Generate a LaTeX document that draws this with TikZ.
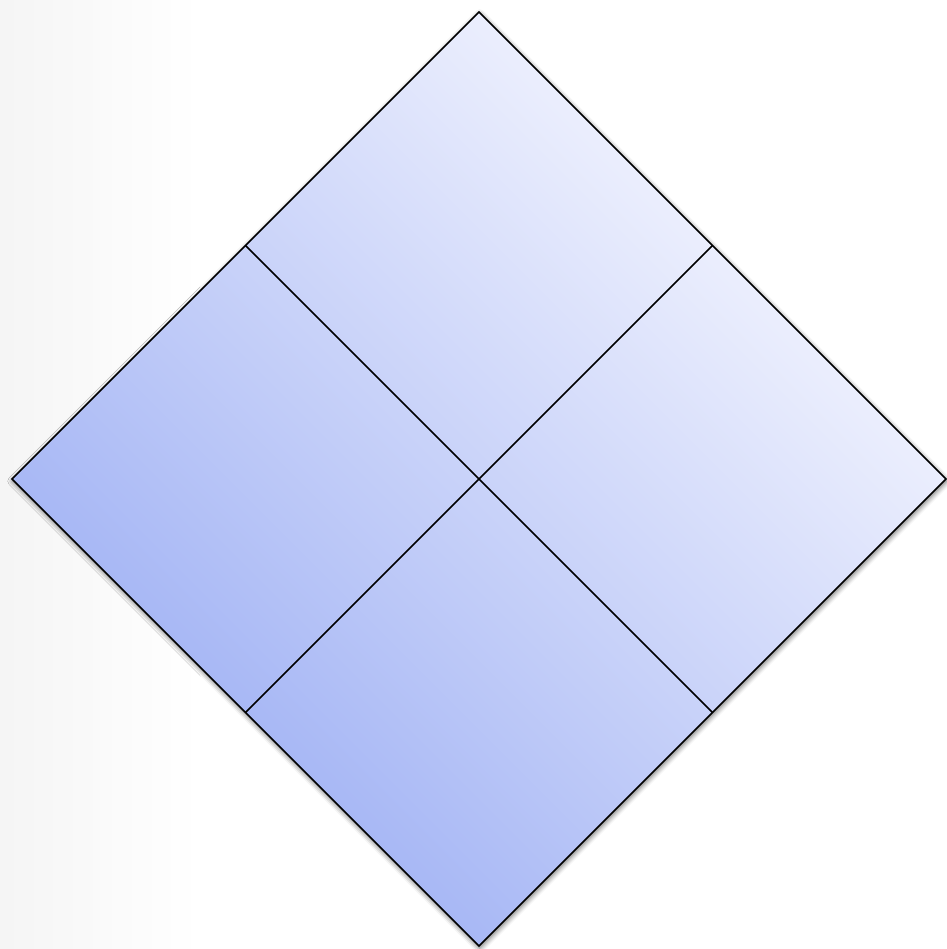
\documentclass[tikz,border=0pt]{standalone}
\usetikzlibrary{shadows.blur}
\definecolor{dlight}{RGB}{235,238,253}
\definecolor{ddark}{RGB}{168,184,245}
\begin{document}
\begin{tikzpicture}[x=1pt,y=1pt,
  edge/.style={draw=black,line width=1.6pt},
  panel/.style={left color=ddark,right color=dlight,
    blur shadow={shadow xshift=-1pt,shadow yshift=-2pt,shadow blur radius=5pt,shadow opacity=60}}]
\useasboundingbox (0,0) rectangle (946,949);
\shade[left color=black!4,right color=white] (0,0) rectangle (200,949);
\coordinate (C) at (479,470);
\begin{scope}[transform canvas={shift={(479pt,470pt)},rotate=45}]
  \shade[panel] (-330.2,-330.2) rectangle (330.2,330.2);
\end{scope}
\begin{scope}[shift={(C)},rotate=45]
  \coordinate (T) at (330.2,330.2);
  \coordinate (R) at (330.2,-330.2);
  \coordinate (B) at (-330.2,-330.2);
  \coordinate (L) at (-330.2,330.2);
  \coordinate (TR) at (330.2,0);
  \coordinate (BR) at (0,-330.2);
  \coordinate (BL) at (-330.2,0);
  \coordinate (TL) at (0,330.2);
\end{scope}
\draw[edge,line join=miter] (T) -- (R) -- (B) -- (L) -- cycle;
\draw[edge] (TL) -- (BR);
\draw[edge] (TR) -- (BL);
\end{tikzpicture}
\end{document}
